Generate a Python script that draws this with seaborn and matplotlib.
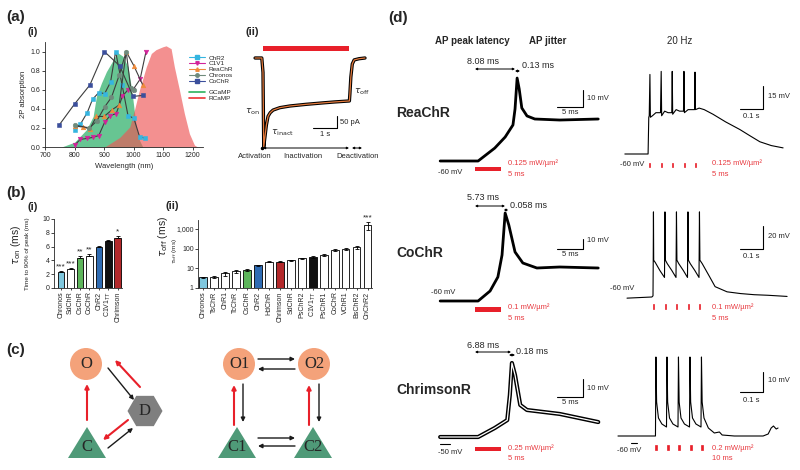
import numpy as np
import matplotlib
matplotlib.use("Agg")
import matplotlib.pyplot as plt
from matplotlib.lines import Line2D
from matplotlib.patches import Circle, RegularPolygon, Polygon, FancyArrowPatch
from matplotlib.ticker import NullLocator
import seaborn as sns

# ---------------- (a)(i) 2P absorption spectra ----------------
wl_chr2 = [800, 820, 843, 861, 882, 902, 922, 939, 961, 981, 1001, 1020, 1040]
ab_chr2 = [0.18, 0.24, 0.36, 0.50, 0.57, 0.56, 0.68, 1.00, 0.65, 0.33, 0.30, 0.11, 0.09]
wl_c1v1 = [800, 820, 843, 861, 882, 902, 921, 941, 962, 981, 998, 1022, 1042]
ab_c1v1 = [0.02, 0.08, 0.09, 0.10, 0.12, 0.26, 0.33, 0.35, 0.53, 0.60, 0.60, 0.71, 1.00]
wl_reachr = [800, 827, 852, 874, 900, 927, 951, 975, 1001, 1031]
ab_reachr = [0.22, 0.21, 0.19, 0.32, 0.32, 0.39, 0.44, 1.00, 0.85, 0.65]
wl_chronos = [800, 850, 875, 902, 925, 951, 975, 990, 1001]
ab_chronos = [0.23, 0.20, 0.27, 0.42, 0.52, 0.75, 1.00, 0.62, 0.60]
wl_cochr = [748, 800, 852, 901, 953, 998, 1031]
ab_cochr = [0.23, 0.45, 0.65, 1.00, 0.85, 0.53, 0.54]
wl_gcamp = [756, 800, 840, 863, 874, 891, 908, 925, 945, 964, 981, 992, 998, 1009, 1020, 1031]
ab_gcamp = [0.0, 0.05, 0.18, 0.32, 0.53, 0.67, 0.79, 0.88, 0.99, 0.95, 0.84, 0.63, 0.49, 0.21, 0.07, 0.0]
wl_rcamp = [902, 953, 987, 1003, 1020, 1043, 1060, 1076, 1099, 1110, 1127, 1138, 1155, 1172, 1189, 1206, 1217]
ab_rcamp = [0.0, 0.10, 0.21, 0.39, 0.60, 0.84, 0.98, 1.02, 1.05, 1.06, 1.03, 0.84, 0.60, 0.35, 0.14, 0.02, 0.0]
opsin_labels = ['ChR2', 'C1V1', 'ReaChR', 'Chronos', 'CoChR']

# ---------------- (a)(ii) photocurrent ----------------
cur_t = [-0.33, -0.05, 0.0, 0.03, 0.08, 0.14, 0.21, 0.30, 0.42, 0.70, 1.12, 1.80, 2.50, 3.00, 3.60, 3.62, 3.66, 3.72, 3.80, 4.00, 4.25]
cur_pa = [0, 0, -60, -370, -330, -280, -243, -228, -217, -207, -200, -193, -187, -183, -179, -150, -80, -25, -8, -3, 0]
light_dur_s = 3.6

# ---------------- (b) kinetics ----------------
ton_names = ['Chronos', 'SdChR', 'CsChR', 'CoChR', 'ChR2', 'C1V1$_{TT}$', 'Chrimson']
ton_vals = [2.3, 2.8, 4.3, 4.6, 5.9, 6.8, 7.2]
ton_err = [0.2, 0.15, 0.3, 0.3, 0.15, 0.15, 0.35]
ton_sig = ['***', '***', '**', '**', '', '', '*']
toff_names = ['Chronos', 'TsChR', 'ChR1', 'TcChR', 'CsChR', 'ChR2', 'HdChR', 'Chrimson',
              'SdChR', 'PsChR2', 'C1V1$_{TT}$', 'PsChR1', 'CoChR', 'VChR1', 'BsChR2', 'CnChR2']
toff_vals = [3.5, 3.8, 5.5, 7.0, 8.5, 14, 22, 22, 25, 33, 37, 48, 85, 95, 120, 1500]
toff_err = [0.3, 0.4, 1.2, 1.0, 1.0, 1.5, 2, 1.5, 2, 2, 3, 6, 12, 12, 20, 600]
toff_sig = [''] * 15 + ['***']
bar_colors = {'Chronos': '#7fc7de', 'CsChR': '#5db55b', 'ChR2': '#2f6cb3',
              'C1V1$_{TT}$': '#111111', 'Chrimson': '#b3292b'}

# ---------------- (d) single APs (ms, mV) ----------------
rea_t = [-6.7, 0.6, 3.8, 5.8, 7.3, 7.7, 8.1, 8.5, 9.0, 10.0, 11.5, 16.3, 23.7]
rea_v = [-60, -60, -52.4, -45.9, -38.8, -29.4, -11.2, -17.6, -28.8, -33.5, -35.3, -35.9, -35.3]
co_t = [-6.7, 0.6, 2.9, 4.4, 5.2, 5.8, 6.5, 7.7, 9.2, 11.9, 16.3, 23.7]
co_v = [-60, -60, -50, -36, -14, 28, 16, -11, -22, -27, -26, -27]
chr_t = [-6.7, 0.6, 3.8, 6.2, 6.7, 7.1, 7.7, 8.7, 10.0, 16.3, 23.7]
chr_v = [-50, -50, -45, -40.6, -26.7, -8.9, -15.6, -32.2, -35, -37.2, -41.7]

# ---------------- (d) 20 Hz trains (ms, mV) ----------------
rea_tr_t = [-105, -4, -1, 1, 4, 6, 15, 30, 50, 53, 55, 68, 83, 99, 101, 103, 118, 133, 150, 152, 154,
            170, 185, 198, 200, 202, 218, 240, 278, 333, 395, 438, 482, 532, 583]
rea_tr_v = [-60, -60, -36, -35, -8, -36, -35, -33, -33, -6, -35, -32, -33, -33, -6, -34, -31, -32, -32, -6, -33,
            -31, -31, -31, -6.5, -31, -30, -31, -34, -39, -44, -48, -52, -54.5, -56]
co_tr_t = [-113, -5, 0, 1, 2, 3, 10, 30, 50, 52, 54, 62, 82, 100, 102, 104, 112, 132, 150, 152, 154,
           162, 182, 200, 202, 204, 214, 245, 270, 322, 380, 440, 500, 583]
co_tr_v = [-61, -60, -59, -28, 14, -28, -30, -37, -43, 14, -28, -31, -37, -43, 14, -28, -31, -37, -43, 14, -28,
           -31, -37, -43, 14, -28, -31, -42, -51, -55.5, -57, -58, -58.5, -59.5]
chr_tr_t = [-161, -30, 2, 4, 7, 15, 30, 50, 52, 55, 63, 78, 100, 102, 105, 113, 128, 150, 152, 155, 163,
            178, 200, 202, 205, 213, 232, 258, 280, 292, 345, 420, 470, 492, 505, 515, 527, 535]
chr_tr_v = [-60, -60, -60, -20.5, -43, -51, -54, -55.5, -20.5, -43, -51, -54, -55.5, -20.5, -43, -51, -54, -55.5,
            -20.5, -43, -51, -54, -55.5, -20.5, -43, -51, -56, -58.5, -58, -59.5, -60, -60, -60, -59, -56, -55,
            -56.5, -56]
pulse_times = [0, 50, 100, 150, 200]
row_names = ['ReaChR', 'CoChR', 'ChrimsonR']
latency_txt = ['8.08 ms', '5.73 ms', '6.88 ms']
jitter_txt = ['0.13 ms', '0.058 ms', '0.18 ms']
rest_single = ['-60 mV', '-60 mV', '-50 mV']
power_single = ['0.125 mW/\u00b5m\u00b2', '0.1 mW/\u00b5m\u00b2', '0.25 mW/\u00b5m\u00b2']
power_train = ['0.125 mW/\u00b5m\u00b2', '0.1 mW/\u00b5m\u00b2', '0.2 mW/\u00b5m\u00b2']
pulse_ms = [5, 5, 10]
train_bar_mv = [15, 20, 10]

# ---------------- style ----------------
sns.set_theme(style='ticks')
plt.rcParams['font.family'] = ['Liberation Sans', 'DejaVu Sans']
plt.rcParams['axes.linewidth'] = 0.6
RED = '#e8202a'
REDTXT = '#e83a40'

W, H = 800, 470
fig = plt.figure(figsize=(8, 4.7), dpi=100)


def add_ax(l, t, r, b):
    return fig.add_axes([l / W, 1 - b / H, (r - l) / W, (b - t) / H])


def trace_ax(box, x0px, y0px, sx, sy, v0):
    # axes whose data scale matches the scale bars of the figure
    l, t, r, b = box
    ax = add_ax(l, t, r, b)
    ax.set_xlim((l - x0px) / sx, (r - x0px) / sx)
    ax.set_ylim(v0 - (b - y0px) / sy, v0 + (y0px - t) / sy)
    ax.axis('off')
    tx = lambda px: (px - x0px) / sx
    vy = lambda py: v0 + (y0px - py) / sy
    return ax, tx, vy


ov = add_ax(0, 0, W, H)
ov.set_xlim(0, W)
ov.set_ylim(H, 0)
ov.axis('off')
ov.set_zorder(5)


def txt(x, y, s, **kw):
    kw.setdefault('va', 'center')
    kw.setdefault('fontsize', 5.5)
    ov.text(x, y, s, **kw)


# panel labels
txt(6, 17, '(a)', fontsize=11, fontweight='bold')
txt(28, 32, '(i)', fontsize=8, fontweight='bold')
txt(246, 32, '(ii)', fontsize=8, fontweight='bold')
txt(6, 193, '(b)', fontsize=11, fontweight='bold')
txt(28, 207, '(i)', fontsize=8, fontweight='bold')
txt(165, 206, '(ii)', fontsize=8, fontweight='bold')
txt(6, 350, '(c)', fontsize=11, fontweight='bold')
txt(388, 18, '(d)', fontsize=11, fontweight='bold')

# ---------------- (a)(i) ----------------
axA = add_ax(45, 42, 203, 147)
axA.fill_between(wl_gcamp, ab_gcamp, color='#4cbb7f', alpha=0.85, lw=0, zorder=1)
axA.fill_between(wl_rcamp, ab_rcamp, color='#ee5555', alpha=0.65, lw=0, zorder=2)
series = [(wl_chr2, ab_chr2, '#35b5e0', 's'), (wl_c1v1, ab_c1v1, '#d2239a', 'v'),
          (wl_reachr, ab_reachr, '#ef8a3a', '^'), (wl_chronos, ab_chronos, '#6f8b7c', 'o'),
          (wl_cochr, ab_cochr, '#3b4f9c', 's')]
handles = []
for (wl, ab, c, m), lab in zip(series, opsin_labels):
    sns.lineplot(x=wl, y=ab, ax=axA, color='#3d3d3d', lw=0.8, marker=m, markersize=3.3,
                 markerfacecolor=c, markeredgecolor=c, markeredgewidth=0.4, sort=False,
                 errorbar=None, zorder=3)
    handles.append(Line2D([0], [0], color=c, lw=0.8, marker=m, markersize=2.5))
handles += [Line2D([0], [0], color='none'),
            Line2D([0], [0], color='#2db35d', lw=1.2), Line2D([0], [0], color='#ee3333', lw=1.2)]
axA.legend(handles, opsin_labels + [' ', 'GCaMP', 'RCaMP'], loc='upper left',
           bbox_to_anchor=(186 / W, 1 - 52 / H), bbox_transform=fig.transFigure, frameon=False,
           fontsize=4.6, labelspacing=0.05, handlelength=2.4, handletextpad=0.6, borderpad=0)
axA.set_xlim(700, 1235)
axA.set_ylim(0, 1.1)
axA.set_xticks([700, 800, 900, 1000, 1100, 1200])
axA.set_yticks([0, 0.2, 0.4, 0.6, 0.8, 1.0])
axA.set_yticklabels(['0.0', '0.2', '0.4', '0.6', '0.8', '1.0'])
axA.tick_params(labelsize=5, length=2, width=0.6, pad=1.5)
axA.set_xlabel('Wavelength (nm)', fontsize=5.5, labelpad=3)
axA.set_ylabel('2P absorption', fontsize=5.5, labelpad=2)
sns.despine(ax=axA)

# ---------------- (a)(ii) ----------------
axT, tT, vT = trace_ax((250, 40, 372, 152), 263, 58, 24, 0.24, 0)
axT.bar(0, 21, width=light_dur_s, bottom=29, align='edge', color=RED, lw=0)
sns.lineplot(x=cur_t, y=cur_pa, ax=axT, color='black', lw=2.4, sort=False, errorbar=None)
sns.lineplot(x=cur_t, y=cur_pa, ax=axT, color='#e57a3c', lw=0.9, sort=False, errorbar=None)
cx, cy = tT(337), vT(128)
axT.plot([cx - 1, cx, cx], [cy, cy, cy + 50], color='black', lw=0.8)
txt(340, 122, '50 pA', fontsize=5.5)
txt(325, 135, '1 s', fontsize=5.5, ha='center')
txt(245, 112, r'$\tau_{\rm on}$', fontsize=6.5)
txt(271, 133, r'$\tau_{\rm inact}$', fontsize=6.5)
txt(354, 92, r'$\tau_{\rm off}$', fontsize=6.5)
ov.plot([262], [148], marker='o', ms=1.5, color='black')
ov.annotate('', xy=(263, 148), xytext=(349, 148),
            arrowprops=dict(arrowstyle='<|-|>', lw=0.7, mutation_scale=3, color='black', shrinkA=0, shrinkB=0))
ov.annotate('', xy=(352, 148), xytext=(362, 148),
            arrowprops=dict(arrowstyle='<|-|>', lw=0.7, mutation_scale=3, color='black', shrinkA=0, shrinkB=0))
txt(255, 157, 'Activation', ha='center')
txt(303, 157, 'Inactivation', ha='center')
txt(358, 157, 'Deactivation', ha='center')

# ---------------- (b)(i) ----------------
axB1 = add_ax(54, 219, 122, 288)
sns.barplot(x=ton_names, y=ton_vals, hue=ton_names, legend=False, ax=axB1,
            palette={n: bar_colors.get(n, 'white') for n in ton_names},
            edgecolor='black', linewidth=0.6, width=0.7, saturation=1)
axB1.errorbar(range(len(ton_vals)), ton_vals, yerr=[np.zeros(len(ton_err)), ton_err], fmt='none',
              ecolor='black', elinewidth=0.6, capsize=1.3, capthick=0.6)
for i, (v, e, s) in enumerate(zip(ton_vals, ton_err, ton_sig)):
    axB1.text(i, v + e + 0.1, s, ha='center', va='bottom', fontsize=6)
axB1.set_xlim(-0.75, 6.45)
axB1.set_ylim(0, 10)
axB1.set_yticks([0, 2, 4, 6, 8, 10])
axB1.tick_params(axis='x', rotation=90, labelsize=5, length=1.5, width=0.6, pad=1)
axB1.tick_params(axis='y', labelsize=5, length=2, width=0.6, pad=1)
axB1.set_ylabel('Time to 90% of peak (ms)', fontsize=4.6)
axB1.yaxis.set_label_coords(-0.36, 0.5)
sns.despine(ax=axB1)
txt(16, 245, r'$\tau_{\rm on}$ (ms)', fontsize=7.5, rotation=90, ha='center')

# ---------------- (b)(ii) ----------------
axB2 = add_ax(198, 220, 372, 288)
sns.barplot(x=toff_names, y=toff_vals, hue=toff_names, legend=False, ax=axB2,
            palette={n: bar_colors.get(n, 'white') for n in toff_names},
            edgecolor='black', linewidth=0.6, width=0.7, saturation=1)
axB2.errorbar(range(len(toff_vals)), toff_vals, yerr=toff_err, fmt='none',
              ecolor='black', elinewidth=0.6, capsize=1.3, capthick=0.6)
axB2.set_yscale('log')
for i, (v, e, s) in enumerate(zip(toff_vals, toff_err, toff_sig)):
    if s:
        axB2.text(i, (v + e) * 1.1, s, ha='center', va='bottom', fontsize=6)
axB2.set_xlim(-0.45, 15.4)
axB2.set_ylim(1, 2800)
axB2.set_yticks([1, 10, 100, 1000])
axB2.set_yticklabels(['1', '10', '100', '1,000'])
axB2.yaxis.set_minor_locator(NullLocator())
axB2.tick_params(axis='x', rotation=90, labelsize=5, length=1.5, width=0.6, pad=1)
axB2.tick_params(axis='y', labelsize=5, length=2, width=0.6, pad=1)
axB2.set_ylabel(r'$\tau_{\rm off}$ (ms)', fontsize=4.6)
axB2.yaxis.set_label_coords(-0.11, 0.55)
sns.despine(ax=axB2)
txt(163, 236, r'$\tau_{\rm off}$ (ms)', fontsize=7.5, rotation=90, ha='center')

# ---------------- (c) kinetic schemes ----------------
c_nodes = ['O', 'D', 'C', 'O1', 'O2', 'C1', 'C2']
c_pos = {'O': (86, 364), 'D': (145, 411), 'C': (87, 442), 'O1': (239, 364), 'O2': (314, 364),
         'C1': (237, 442), 'C2': (313, 442)}
for n in c_nodes:
    x, y = c_pos[n]
    ty = y
    if n.startswith('O'):
        ov.add_patch(Circle((x, y), 16, color='#f4a27a', lw=0))
    elif n == 'D':
        ov.add_patch(RegularPolygon((x, y), 6, radius=17.5, orientation=np.pi / 6, color='#7f7f7f', lw=0))
    else:
        ov.add_patch(Polygon([(x - 19, y + 16), (x + 19, y + 16), (x, y - 15)], color='#4f9a78', lw=0))
        ty = y + 5
    ov.text(x, ty, n, ha='center', va='center', fontsize=12, family=['Liberation Serif'])
c_arrows = [((87, 420), (87, 384), RED), ((108, 368), (134, 400), 'k'), ((140, 387), (115, 360), RED),
            ((128, 420), (103, 440), RED), ((108, 448), (133, 428), 'k'),
            ((258, 359), (295, 359), 'k'), ((295, 369), (258, 369), 'k'),
            ((258, 438), (295, 438), 'k'), ((295, 446), (258, 446), 'k'),
            ((234, 425), (234, 385), RED), ((243, 384), (243, 422), 'k'),
            ((309, 425), (309, 385), RED), ((319, 384), (319, 422), 'k')]
for a, b, c in c_arrows:
    ov.add_patch(FancyArrowPatch(a, b, arrowstyle='-|>', mutation_scale=6, color=c,
                                 lw=1.5 if c == RED else 1.0, shrinkA=0, shrinkB=0))

# ---------------- (d) ----------------
txt(472, 41, 'AP peak latency', fontsize=7, fontweight='bold', ha='center')
txt(548, 41, 'AP jitter', fontsize=7, fontweight='bold', ha='center')
txt(680, 41, '20 Hz', fontsize=7, ha='center')

single = [(rea_t, rea_v), (co_t, co_v), (chr_t, chr_v)]
trains = [(rea_tr_t, rea_tr_v), (co_tr_t, co_tr_v), (chr_tr_t, chr_tr_v)]
layout = [
    dict(lbox=(430, 35, 610, 185), ly0=161, lsy=1.7, lv0=-60, rbox=(612, 35, 795, 185), rx0=649, ry0=154,
         rsy=1.53, name_y=113, lat_y=61, arr_y=69, lat_x1=515, jit=(515, 520, 71), jit_t=(522, 66),
         lsb=(583, 107), rsb=(763, 109), rest=(438, 172), rrest=(620, 165), lstim=(167, 171),
         rstim=(163, 167), stxt=(163, 175)),
    dict(lbox=(430, 185, 610, 325), ly0=301, lsy=1.0, lv0=-60, rbox=(612, 185, 795, 325), rx0=653, ry0=297,
         rsy=1.15, name_y=253, lat_y=198, arr_y=206, lat_x1=505, jit=(504, 508, 210), jit_t=(510, 205),
         lsb=(583, 249), rsb=(763, 249), rest=(431, 293), rrest=(610, 288), lstim=(307, 312),
         rstim=(304, 309), stxt=(307, 318)),
    dict(lbox=(430, 325, 610, 468), ly0=437, lsy=1.8, lv0=-50, rbox=(612, 325, 795, 468), rx0=655, ry0=436,
         rsy=2.0, name_y=390, lat_y=345, arr_y=352, lat_x1=511, jit=(509, 515, 355), jit_t=(516, 352),
         lsb=(583, 397), rsb=(763, 392), rest=(438, 452), rrest=(617, 451), lstim=(447, 451),
         rstim=(445, 450), stxt=(448, 459)),
]
arrow_kw = dict(arrowstyle='<|-|>', lw=0.7, mutation_scale=3, color='black', shrinkA=0, shrinkB=0)
for k, L in enumerate(layout):
    # single AP
    ax, tx, vy = trace_ax(L['lbox'], 475, L['ly0'], 5.2, L['lsy'], L['lv0'])
    t, v = single[k]
    if k == 2:
        sns.lineplot(x=t, y=v, ax=ax, color='black', lw=3.0, sort=False, errorbar=None)
        sns.lineplot(x=t, y=v, ax=ax, color='white', lw=0.9, sort=False, errorbar=None)
    else:
        sns.lineplot(x=t, y=v, ax=ax, color='black', lw=2.0, sort=False, errorbar=None)
    s0, s1 = vy(L['lstim'][1]), vy(L['lstim'][0])
    ax.bar(0, s1 - s0, width=5, bottom=s0, align='edge', color=RED, lw=0)
    cx, cy = tx(L['lsb'][0]), vy(L['lsb'][1])
    ax.plot([cx - 5, cx, cx], [cy, cy, cy + 10], color='black', lw=0.8)
    txt(L['lsb'][0] + 4, L['lsb'][1] - 9, '10 mV')
    txt(L['lsb'][0] - 13, L['lsb'][1] + 6, '5 ms', ha='center')
    txt(L['rest'][0], L['rest'][1], rest_single[k])
    txt(508, L['stxt'][0], power_single[k], color=REDTXT)
    txt(508, L['stxt'][1], '5 ms', color=REDTXT)
    txt(396, L['name_y'], row_names[k], fontsize=10, fontweight='bold')
    txt(483, L['lat_y'], latency_txt[k], fontsize=6.5, ha='center')
    ov.annotate('', xy=(475, L['arr_y']), xytext=(L['lat_x1'], L['arr_y']), arrowprops=arrow_kw)
    j0, j1, jy = L['jit']
    ov.annotate('', xy=(j0, jy), xytext=(j1, jy), arrowprops=arrow_kw)
    txt(L['jit_t'][0], L['jit_t'][1], jitter_txt[k], fontsize=6.5)

    # 20 Hz train
    ax, tx, vy = trace_ax(L['rbox'], L['rx0'], L['ry0'], 0.23, L['rsy'], -60)
    t, v = trains[k]
    sns.lineplot(x=t, y=v, ax=ax, color='black', lw=0.8, sort=False, errorbar=None)
    s0, s1 = vy(L['rstim'][1]), vy(L['rstim'][0])
    ax.bar(pulse_times, s1 - s0, width=pulse_ms[k], bottom=s0, align='edge', color=RED,
           edgecolor=RED, lw=0.5)
    cx, cy = tx(L['rsb'][0]), vy(L['rsb'][1])
    ax.plot([cx - 100, cx, cx], [cy, cy, cy + train_bar_mv[k]], color='black', lw=0.8)
    txt(L['rsb'][0] + 5, L['rsb'][1] - 12, f'{train_bar_mv[k]} mV')
    txt(L['rsb'][0] - 12, L['rsb'][1] + 8, '0.1 s', ha='center')
    txt(L['rrest'][0], L['rrest'][1], '-60 mV')
    txt(712, L['stxt'][0], power_train[k], color=REDTXT)
    txt(712, L['stxt'][1], f'{pulse_ms[k]} ms', color=REDTXT)

# short resting-level marks beside the ChrimsonR labels
ov.plot([440, 450], [444, 444], color='black', lw=0.8)
ov.plot([631, 637], [443, 443], color='black', lw=0.8)

fig.savefig('out.png', dpi=100)
